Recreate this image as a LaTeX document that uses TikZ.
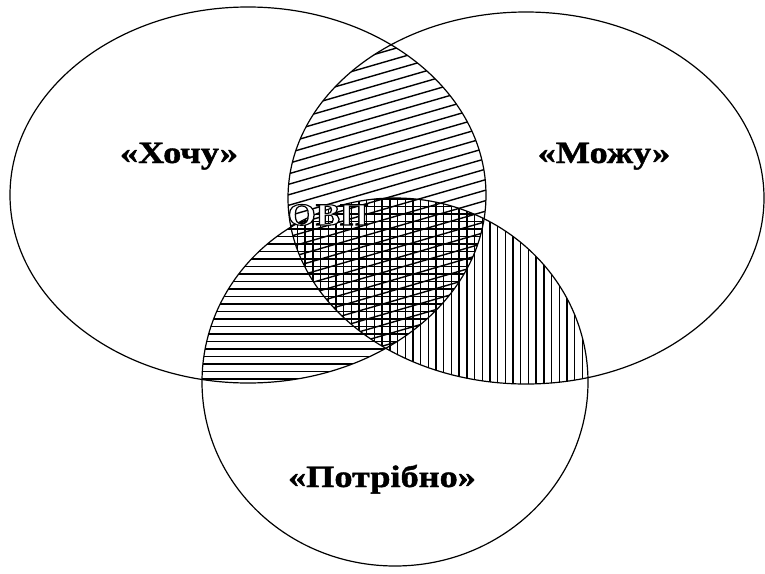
\documentclass[tikz,border=0pt]{standalone}
\usepackage{fontspec}
\setmainfont{Liberation Serif}[BoldFeatures={FakeBold=1.2}]
\newfontface\coreface{Liberation Serif Bold}[FakeBold=3.5]
\newcommand{\wantshape}{(248,195) ellipse [x radius=238, y radius=188]}
\newcommand{\canshape}{(526,198) ellipse [x radius=238, y radius=186]}
\newcommand{\needshape}{(395,382) ellipse [x radius=193, y radius=184]}

\begin{document}
\begin{tikzpicture}[
    x=1pt, y=-1pt,
    setname/.style={font=\bfseries\fontsize{31}{31}\selectfont,xscale=1.17,
      inner sep=0pt,anchor=base},
    core/.style={setname,font=\coreface\fontsize{31}{31}\selectfont,text=white},
    outline/.style={line width=1.2pt},
    hatch/.style={line width=1.4pt}
  ]
    \useasboundingbox[fill=white] (0,0) rectangle (765,573);

    % want + can: diagonal lines
    \begin{scope}
      \clip \wantshape;
      \clip \canshape;
      \foreach \k in {100,110.5,...,580}
        \draw[hatch] (250,\k-72.5) -- (520,\k-150.8);
    \end{scope}

    % want + need: horizontal lines
    \begin{scope}
      \clip \wantshape;
      \clip \needshape;
      \foreach \k in {199,206.5,...,392}
        \draw[hatch] (190,\k) -- (500,\k);
    \end{scope}

    % can + need: vertical lines
    \begin{scope}
      \clip \canshape;
      \clip \needshape;
      \foreach \k in {282,289.7,...,600}
        \draw[hatch] (\k,190) -- (\k,400);
    \end{scope}

    \draw[outline] \wantshape;
    \draw[outline] \canshape;
    \draw[outline] \needshape;

    \node[setname] (want) at (179,163) {«Хочу»};
    \node[setname] (can) at (604,163) {«Можу»};
    \node[setname] (need) at (382,487) {«Потрібно»};
    \node[core] (ovp) at (328,225) {\special{pdf:literal direct 0 G}ОВП};
  \end{tikzpicture}
\end{document}
